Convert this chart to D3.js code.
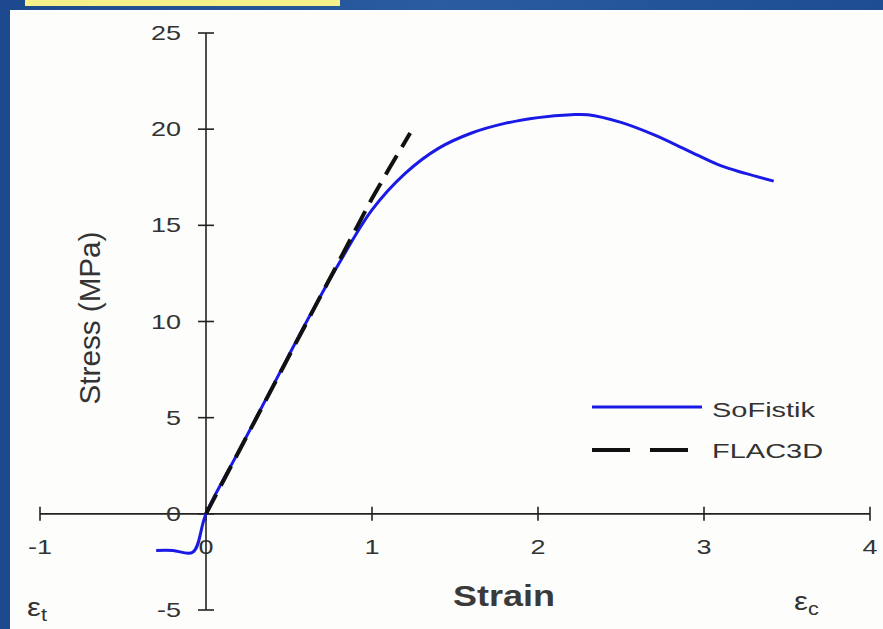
<!DOCTYPE html>
<meta charset="utf-8">
<style>
  body { margin: 0; background: #fff; }
  text { font-family: "Liberation Sans", Arial, sans-serif; fill: #333; }
  .axis path, .axis line { stroke: #222; stroke-width: 1.6px; }
</style>
<body>
<svg width="883" height="629"></svg>
<script src="https://d3js.org/d3.v7.min.js"></script>
<script>

// values
var xTicks = [-1, 0, 1, 2, 3, 4];
var yTicks = [-5, 0, 5, 10, 15, 20, 25];

var sofistikStrain = [-0.3, -0.2, -0.08, 0, 0.2, 0.4, 0.6, 0.8, 1.0, 1.2, 1.4, 1.6, 1.8, 2.0, 2.2, 2.3, 2.5, 2.7, 2.9, 3.1, 3.25, 3.42];
var sofistikStress = [-1.9, -1.9, -2.0, 0, 3.3, 6.6, 9.9, 13.0, 15.8, 17.7, 19.0, 19.8, 20.3, 20.6, 20.75, 20.75, 20.35, 19.7, 18.9, 18.1, 17.7, 17.3];

var flacStrain = [0, 0.5, 1.0, 1.1, 1.23];
var flacStress = [0, 8.2, 16.4, 17.9, 19.8];

var seriesNames = ["SoFistik", "FLAC3D"];

const svg = d3.select('svg'),
      width = +svg.attr('width'),
      height = +svg.attr('height');

// the source picture is stretched sideways, so text is too
const SX = 1.35;

// blue frame
var grad = svg.append("defs").append("linearGradient")
  .attr("id", "frame").attr("x1", "0").attr("x2", "1");
grad.append("stop").attr("offset", "0").attr("stop-color", "#1d4a8e");
grad.append("stop").attr("offset", "0.5").attr("stop-color", "#2a5c9f");
grad.append("stop").attr("offset", "1").attr("stop-color", "#1e4d91");
svg.append("rect").attr("width", width).attr("height", height).attr("fill", "url(#frame)");
svg.append("rect").attr("x", 10).attr("y", 10).attr("width", width - 10).attr("height", height - 10).attr("fill", "#fdfdfb");
svg.append("rect").attr("x", 25).attr("y", 0).attr("width", 315).attr("height", 6).attr("fill", "#f6f08a");

var x = d3.scaleLinear().domain([-1, 4]).range([40, 870]);
var y = d3.scaleLinear().domain([-5, 25]).range([610, 33]);

// x axis (ticks cross the line)
var gx = svg.append("g").attr("class", "axis")
  .attr("transform", "translate(0," + y(0) + ")");
gx.append("line").attr("x1", x(-1)).attr("x2", x(4));
gx.selectAll(".t").data(xTicks).enter().append("line")
  .attr("x1", d => x(d)).attr("x2", d => x(d)).attr("y1", -7).attr("y2", 7);
gx.selectAll("text").data(xTicks).enter().append("text")
  .attr("transform", d => "translate(" + x(d) + ",40) scale(" + SX + ",1)")
  .attr("text-anchor", "middle").style("font-size", "20px")
  .text(d => d);

// y axis
var gy = svg.append("g").attr("class", "axis")
  .attr("transform", "translate(" + x(0) + ",0)");
gy.append("line").attr("y1", y(-5)).attr("y2", y(25));
gy.selectAll(".t").data(yTicks).enter().append("line")
  .attr("y1", d => y(d)).attr("y2", d => y(d)).attr("x1", -8).attr("x2", 8);
gy.selectAll("text").data(yTicks).enter().append("text")
  .attr("transform", d => "translate(-25," + (y(d) + 7) + ") scale(" + SX + ",1)")
  .attr("text-anchor", "end").style("font-size", "20px")
  .text(d => d);

svg.append("path")
  .datum(sofistikStrain.map((s, i) => [s, sofistikStress[i]]))
  .attr("d", d3.line().x(d => x(d[0])).y(d => y(d[1])).curve(d3.curveCatmullRom.alpha(0.5)))
  .attr("fill", "none").attr("stroke", "#1a1ae6").attr("stroke-width", 3);

svg.append("path")
  .datum(flacStrain.map((s, i) => [s, flacStress[i]]))
  .attr("d", d3.line().x(d => x(d[0])).y(d => y(d[1])))
  .attr("fill", "none").attr("stroke", "#111").attr("stroke-width", 4)
  .attr("stroke-dasharray", "22,10");

// legend
var legend = svg.append("g");
legend.append("line").attr("x1", 592).attr("x2", 702).attr("y1", 407).attr("y2", 407)
  .attr("stroke", "#1a1ae6").attr("stroke-width", 3);
legend.append("line").attr("x1", 592).attr("x2", 690).attr("y1", 450).attr("y2", 450)
  .attr("stroke", "#111").attr("stroke-width", 4).attr("stroke-dasharray", "38,20");
legend.selectAll("text").data(seriesNames).enter().append("text")
  .attr("transform", (d, i) => "translate(712," + (417 + i * 41) + ") scale(1.45,1)")
  .style("font-size", "20px").text(d => d);

// axis titles
var ylab = svg.append("text")
  .attr("text-anchor", "middle").style("font-size", "25px")
  .text("Stress (MPa)");
var yk = 173 / ylab.node().getComputedTextLength();
ylab.attr("transform", "translate(100,318) rotate(-90) scale(" + yk + ",1.15)");

svg.append("text")
  .attr("transform", "translate(504,606) scale(1.2,1)").attr("text-anchor", "middle")
  .style("font-size", "30px").style("font-weight", "bold").style("fill", "#3a3a3a")
  .text("Strain");

var et = svg.append("text").attr("transform", "translate(27,616) scale(1.2,1)").style("font-size", "26px");
et.append("tspan").text("ε");
et.append("tspan").attr("dy", 5).style("font-size", "18px").text("t");
var ec = svg.append("text").attr("transform", "translate(794,610) scale(1.2,1)").style("font-size", "26px");
ec.append("tspan").text("ε");
ec.append("tspan").attr("dy", 5).style("font-size", "18px").text("c");

</script>
</body>
